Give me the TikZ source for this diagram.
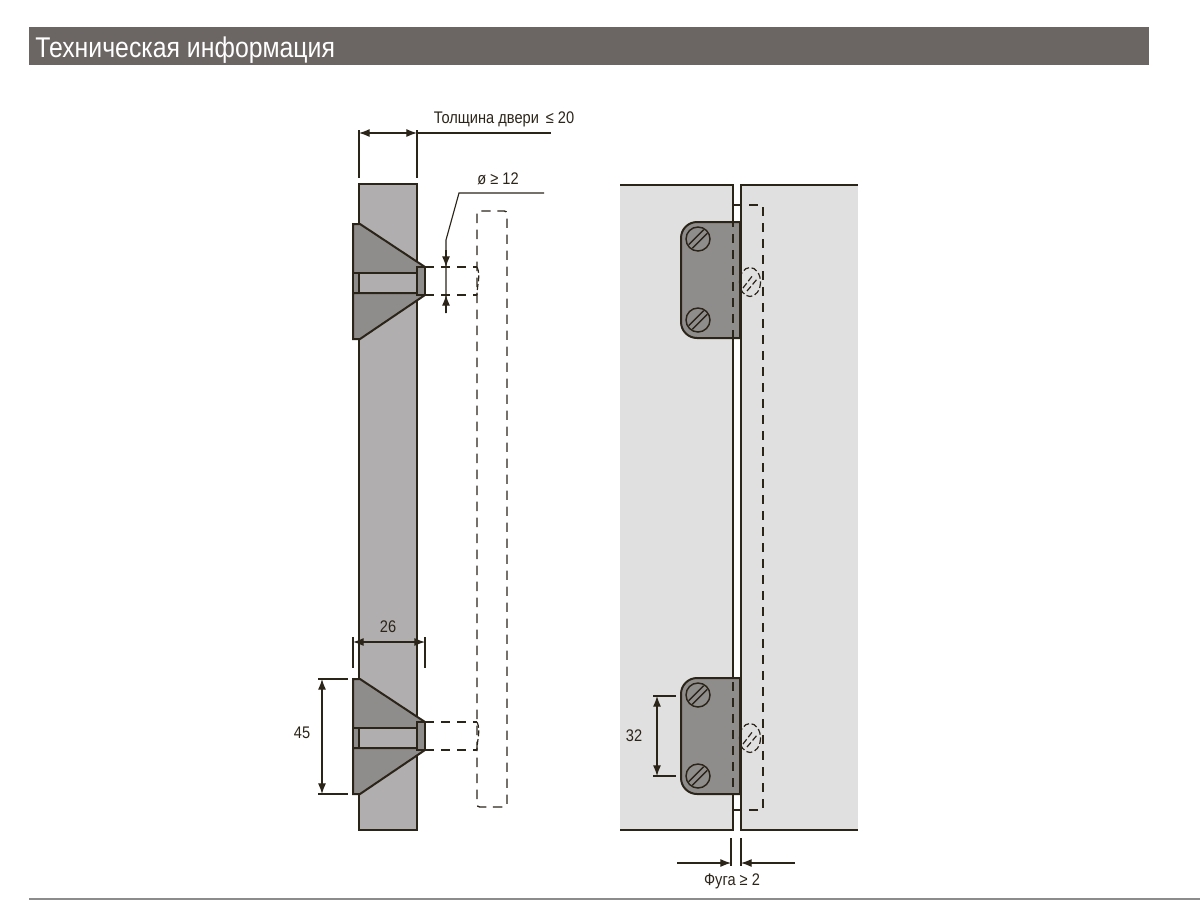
\documentclass[tikz,border=0pt]{standalone}
\usepackage{fontspec}
\setmainfont{Liberation Sans}[FakeStretch=0.87]
\usetikzlibrary{arrows.meta}
\definecolor{inkline}{HTML}{2B2419}
\definecolor{headbar}{HTML}{6B6663}
\definecolor{doorgrey}{HTML}{B0AEAE}
\definecolor{bodygrey}{HTML}{8F8D8C}
\definecolor{panelgrey}{HTML}{E0E0E0}
\tikzset{
  edge/.style={draw=inkline, line width=1.5pt},
  thin edge/.style={draw=inkline, line width=1.1pt},
  hidden/.style={draw=inkline, line width=1pt, dash pattern=on 7pt off 5pt},
  short hidden/.style={draw=inkline, line width=0.9pt, dash pattern=on 4.5pt off 2pt},
  dimline/.style={draw=inkline, line width=0.85pt},
  dimarrow/.style={dimline, -{Latex[length=8pt,width=6pt]}},
  dimtext/.style={text=inkline, font=\fontsize{12.6}{15}\selectfont, inner sep=0pt},
}
\begin{document}
\begin{tikzpicture}[x=0.75pt, y=-0.75pt]

  \useasboundingbox (0,0) rectangle (1200,900);

  %% header and foot rule
  \fill[headbar] (29,27) rectangle (1149,65);
  \node[anchor=base west, text=white, inner sep=0pt, font=\fontsize{21.4}{26}\selectfont] (title) at (35,57) {Техническая информация};
  \fill[black!45] (29,898) rectangle (1200,900);

  %% door edge, left view
  \draw[edge, fill=doorgrey] (359,184) rectangle (417,830);

  \foreach \Y in {0,455}{
    \draw[edge, fill=bodygrey] (353,224+\Y) -- (360,224+\Y) -- (425,267+\Y) -- (417,273+\Y) -- (353,273+\Y) -- cycle;
    \draw[edge, fill=bodygrey] (353,293+\Y) -- (417,293+\Y) -- (425,295+\Y) -- (360,339+\Y) -- (353,339+\Y) -- cycle;
    \draw[edge, fill=doorgrey] (353,273+\Y) rectangle (417,293+\Y);
    \draw[edge, fill=bodygrey] (353,273+\Y) rectangle (359,293+\Y);
    \draw[edge, fill=bodygrey] (417,267+\Y) rectangle (425,295+\Y);
    \draw[hidden] (425,267+\Y) -- (477,267+\Y) (425,295+\Y) -- (477,295+\Y);
  }
  \draw[short hidden] (477,267) .. controls (481,275) and (477,285) .. (477,295);
  \draw[short hidden] (477,722) .. controls (481,730) and (477,740) .. (477,750);

  %% handle behind
  \draw[hidden, rounded corners=2pt] (477,211) rectangle (507,807);

  %% door thickness
  \coordinate (thickA) at (359,133);
  \coordinate (thickB) at (417,133);
  \draw[dimline] (359,130) -- (359,178);
  \draw[dimline] (417,130) -- (417,178);
  \draw[dimline] (thickB) -- (551,133);
  \draw[dimarrow] (388,133) -- (thickA);
  \draw[dimarrow] (388,133) -- (thickB);
  \node[dimtext] (thicktext) at (504,119) {Толщина двери \,≤ 20};

  %% hole
  \coordinate (holeA) at (446,267);
  \coordinate (holeB) at (446,295);
  \draw[dimline] (544,193) -- (459,193) -- (446,240) -- (446,313);
  \draw[dimarrow] (446,250) -- (holeA);
  \draw[dimarrow] (446,313) -- (holeB);
  \node[dimtext] (holetext) at (498,179) {ø ≥ 12};

  %% bracket width
  \coordinate (widthA) at (353,642);
  \coordinate (widthB) at (425,642);
  \draw[dimline] (353,637) -- (353,668);
  \draw[dimline] (425,637) -- (425,668);
  \draw[dimarrow] (389,642) -- (widthA);
  \draw[dimarrow] (389,642) -- (widthB);
  \node[dimtext] (widthtext) at (388,627) {26};

  %% bracket height
  \coordinate (heightA) at (322,679);
  \coordinate (heightB) at (322,794);
  \draw[dimline] (318,679) -- (348,679);
  \draw[dimline] (318,794) -- (348,794);
  \draw[dimarrow] (322,736) -- (heightA);
  \draw[dimarrow] (322,736) -- (heightB);
  \node[dimtext] (heighttext) at (302,733) {45};

  %% door panels, right view
  \fill[panelgrey] (620,185) rectangle (733,830);
  \fill[panelgrey] (741,185) rectangle (858,830);
  \draw[thin edge] (620,185) -- (733,185) -- (733,830) -- (620,830);
  \draw[thin edge] (858,185) -- (741,185) -- (741,830) -- (858,830);

  \draw[thin edge] (733,205) -- (741,205);

  \foreach \Y in {0,456}{
    \draw[edge, fill=bodygrey, rounded corners=12pt] (740,222+\Y) -- (681,222+\Y) -- (681,338+\Y) -- (740,338+\Y);
    \draw[draw=inkline, line width=2.2pt] (740,222+\Y) -- (740,338+\Y);
    \foreach \C in {239,320}{
      \draw[thin edge] (698,\C+\Y) circle (12);
      \draw[thin edge] (688.7,\C+\Y+5.7) -- (703.7,\C+\Y-9.3);
      \draw[thin edge] (692.3,\C+\Y+9.3) -- (707.3,\C+\Y-5.7);
    }
    \draw[short hidden] (750,282+\Y) ellipse (10.5 and 14.5);
    \draw[short hidden] (743,288+\Y) -- (753,275+\Y);
    \draw[short hidden] (747,291+\Y) -- (758,278+\Y);
  }

  %% handle behind
  \draw[hidden] (733,205) -- (763,205) -- (763,810) -- (733,810) -- cycle;

  %% screw pitch
  \coordinate (pitchA) at (657,696);
  \coordinate (pitchB) at (657,776);
  \draw[dimline] (653,696) -- (676,696);
  \draw[dimline] (653,776) -- (676,776);
  \draw[dimarrow] (657,736) -- (pitchA);
  \draw[dimarrow] (657,736) -- (pitchB);
  \node[dimtext] (pitchtext) at (634,736) {32};

  %% gap
  \coordinate (gapA) at (731,863);
  \coordinate (gapB) at (741,863);
  \draw[dimline] (731,838) -- (731,866);
  \draw[dimline] (741,838) -- (741,866);
  \draw[dimarrow] (677,863) -- (gapA);
  \draw[dimarrow] (795,863) -- (gapB);
  \node[dimtext] (gaptext) at (732,881) {Фуга ≥ 2};

\end{tikzpicture}
\end{document}
